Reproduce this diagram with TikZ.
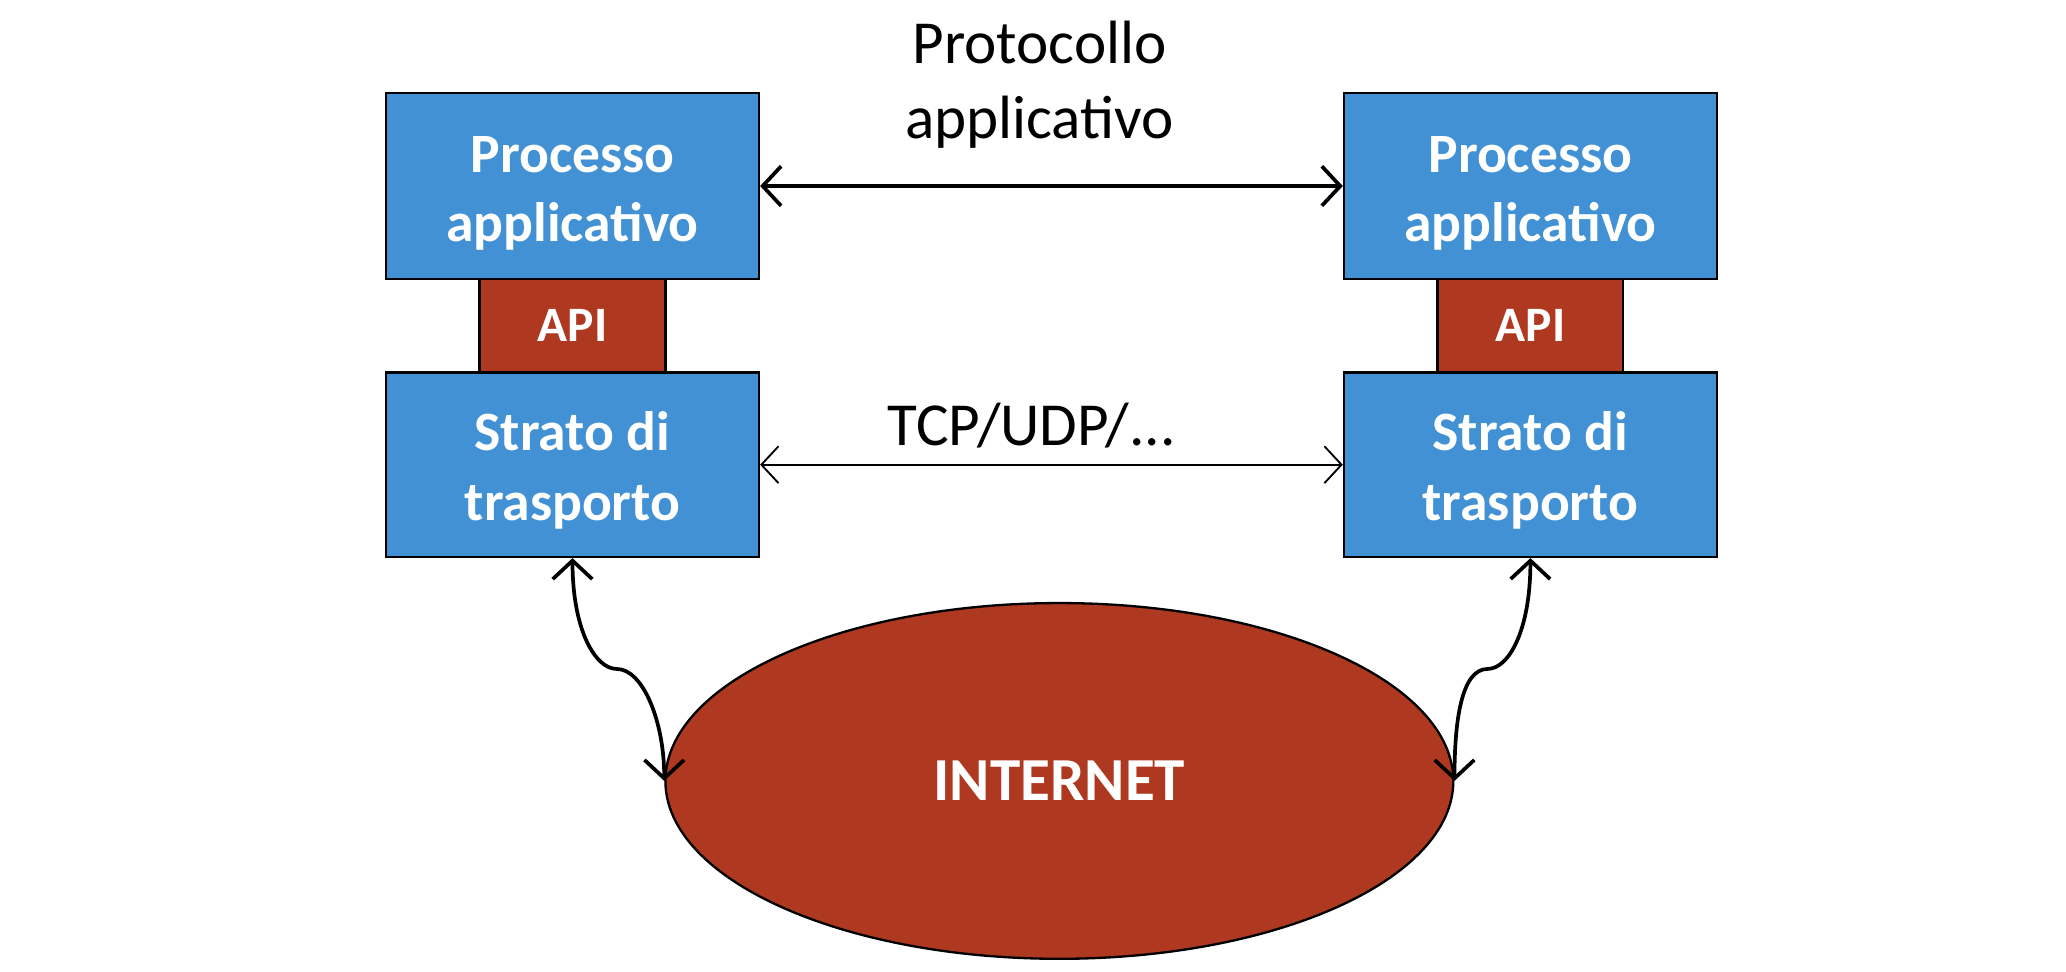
\documentclass[tikz,border=0pt]{standalone}
\usepackage{fontspec}
\setmainfont{Carlito}
\usetikzlibrary{arrows.meta,shapes.geometric}
\definecolor{boxblue}{RGB}{65,145,212}
\definecolor{apired}{RGB}{174,57,32}
\tikzset{
  layer/.style={draw=black, line width=0.5pt, fill=boxblue, text=white, font=\bfseries\fontsize{12}{15}\selectfont, align=center, minimum width=2.83cm, minimum height=1.41cm, inner sep=0pt, text height=25pt, text depth=1pt},
  api/.style={draw=black, line width=0.5pt, fill=apired, text=white, font=\bfseries\fontsize{10.7}{13}\selectfont, minimum width=1.41cm, minimum height=0.71cm, inner sep=0pt},
  lbl/.style={font=\fontsize{13.2}{16.2}\selectfont, align=center},
  both/.style={{Straight Barb[length=1.4mm,width=3mm]}-{Straight Barb[length=1.4mm,width=3mm]}, line width=0.8pt}
}
\begin{document}
\begin{tikzpicture}
\useasboundingbox (0,0) rectangle (15.68,7.377);
% due pile di strati
\node[layer] (procL) at (4.345,5.965) {Processo\\applicativo};
\node[api] (apiL) at (4.345,4.905) {API};
\node[layer, minimum height=1.40cm] (trL) at (4.345,3.85) {Strato di\\trasporto};
\node[layer] (procR) at (11.615,5.965) {Processo\\applicativo};
\node[api] (apiR) at (11.615,4.905) {API};
\node[layer, minimum height=1.40cm] (trR) at (11.615,3.85) {Strato di\\trasporto};
\node[ellipse, draw=black, line width=0.5pt, fill=apired, text=white, font=\bfseries\fontsize{13.2}{16}\selectfont, minimum width=5.98cm, minimum height=2.7cm, inner sep=0pt] (net) at (8.04,1.45) {INTERNET};
\node[lbl] (proto) at (7.89,6.735) {Protocollo\\applicativo};
\node[lbl] (tcp) at (7.83,4.15) {TCP/UDP/...};
\draw[both] (procL.east) -- (procR.west);
\draw[{Straight Barb[length=1.3mm,width=2.8mm]}-{Straight Barb[length=1.3mm,width=2.8mm]}, line width=0.4pt] (trL.east) -- (trR.west);
\draw[both] (trL.south) .. controls +(0,-0.55) and (4.52,2.30) .. (4.68,2.30) .. controls (4.88,2.30) and +(0,0.45) .. (net.west);
\draw[both] (trR.south) .. controls +(0,-0.55) and (11.45,2.30) .. (11.29,2.30) .. controls (11.09,2.30) and +(0,0.45) .. (net.east);
\end{tikzpicture}
\end{document}
